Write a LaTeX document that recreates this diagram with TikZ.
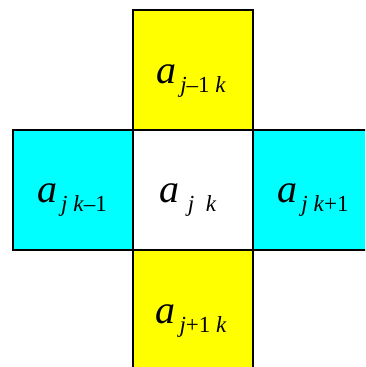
\documentclass[tikz,border=0pt]{standalone}
\usepackage{fontspec}
\setmainfont{Liberation Serif}
\usetikzlibrary{positioning}

\definecolor{rowyellow}{RGB}{255,255,0}
\definecolor{colcyan}{RGB}{0,255,255}

\tikzset{
  cell/.style={draw=black, line width=1.6pt, minimum width=120pt,
    minimum height=120pt, inner sep=0pt, outer sep=0pt},
  rowcell/.style={cell, fill=rowyellow},
  colcell/.style={cell, fill=colcyan},
  lbl/.style={anchor=base, inner sep=0pt, font=\itshape}
}
\newcommand{\entry}[1]{{\fontsize{40}{40}\selectfont a}\hspace{4pt}%
  \raisebox{-9pt}{\fontsize{23}{23}\selectfont #1}}

\begin{document}
\begin{tikzpicture}[x=1pt,y=-1pt]
    \useasboundingbox (0,0) rectangle (365,367);
    \clip (0,0) rectangle (365,367);

    % Cells of the stencil
    \node[cell, fill=white] (mid) at (193,190) {};
    \node[rowcell, above=0pt of mid] (up) {};
    \node[rowcell, below=0pt of mid] (down) {};
    \node[colcell, left=0pt of mid] (left) {};
    \node[colcell, right=0pt of mid] (right) {};

    % Entries
    \node[lbl] (uplab) at ([xshift=-2pt,yshift=-13pt]up.center) {\entry{j\textup{–1} k}};
    \node[lbl] (downlab) at ([xshift=-2pt,yshift=-13pt]down.center) {\entry{j\textup{+1} k}};
    \node[lbl] (leftlab) at ([xshift=-1pt,yshift=-12pt]left.center) {\entry{j k\textup{–1}}};
    \node[lbl] (rightlab) at ([yshift=-12pt]right.center) {\entry{j k\textup{+1}}};
    \node[lbl] (midlab) at ([xshift=-5pt,yshift=-12pt]mid.center) {\entry{\hspace{4pt}j\ \ k}};
\end{tikzpicture}
\end{document}
